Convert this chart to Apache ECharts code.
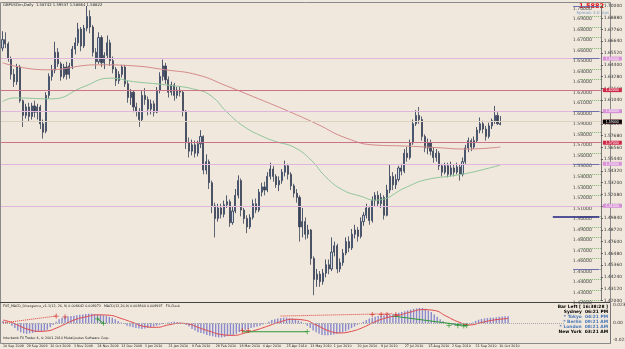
<!DOCTYPE html>
<html>
<head>
<meta charset="utf-8">
<script src="https://cdn.jsdelivr.net/npm/echarts@6/dist/echarts.min.js"></script>
<style>
  html, body { margin: 0; padding: 0; background: #f0e8dc; }
  #chart { width: 625px; height: 349px; }
</style>
</head>
<body>
<div id="chart"></div>
<script>
// GBPUSDm daily, one candle per slot: [open, close, low, high]
const candles = [
  [1.6600,1.6680,1.6570,1.6760],[1.6680,1.6640,1.6600,1.6750],[1.6640,1.6500,1.6470,1.6660],[1.6500,1.6350,1.6300,1.6520],
  [1.6350,1.6280,1.6230,1.6400],[1.6280,1.6420,1.6250,1.6450],[1.6420,1.6100,1.6080,1.6440],[1.6100,1.5960,1.5850,1.6110],
  [1.5960,1.6040,1.5930,1.6070],[1.6040,1.5950,1.5900,1.6080],[1.5950,1.6050,1.5920,1.6080],[1.6050,1.5990,1.5940,1.6100],
  [1.5990,1.6040,1.5920,1.6070],[1.6040,1.5880,1.5830,1.6060],[1.5880,1.5800,1.5740,1.5920],[1.5810,1.6150,1.5790,1.6180],
  [1.6150,1.6330,1.6120,1.6360],[1.6330,1.6390,1.6290,1.6440],[1.6390,1.6560,1.6360,1.6660],[1.6560,1.6450,1.6420,1.6600],
  [1.6450,1.6330,1.6290,1.6470],[1.6330,1.6420,1.6310,1.6450],[1.6420,1.6350,1.6300,1.6470],[1.6350,1.6430,1.6310,1.6460],
  [1.6430,1.6590,1.6400,1.6620],[1.6590,1.6650,1.6540,1.6700],[1.6650,1.6780,1.6620,1.6840],[1.6780,1.6620,1.6570,1.6800],
  [1.6620,1.6790,1.6600,1.6820],[1.6790,1.6900,1.6760,1.7000],[1.6900,1.6800,1.6740,1.6960],[1.6800,1.6560,1.6520,1.6820],
  [1.6560,1.6470,1.6400,1.6600],[1.6470,1.6700,1.6450,1.6750],[1.6700,1.6460,1.6420,1.6720],[1.6460,1.6530,1.6400,1.6560],
  [1.6530,1.6650,1.6500,1.6720],[1.6650,1.6480,1.6430,1.6680],[1.6480,1.6400,1.6360,1.6520],[1.6400,1.6290,1.6240,1.6420],
  [1.6290,1.6350,1.6260,1.6380],[1.6350,1.6420,1.6320,1.6440],[1.6420,1.6260,1.6230,1.6440],[1.6260,1.6130,1.6080,1.6290],
  [1.6130,1.6180,1.6060,1.6210],[1.6180,1.6040,1.5990,1.6200],[1.6040,1.6000,1.5950,1.6080],[1.6000,1.5920,1.5850,1.6030],
  [1.5920,1.6150,1.5900,1.6200],[1.6150,1.6110,1.6060,1.6220],[1.6110,1.6020,1.5960,1.6140],[1.6020,1.6070,1.5970,1.6110],
  [1.6070,1.5990,1.5950,1.6100],[1.5990,1.6200,1.5980,1.6230],[1.6200,1.6330,1.6170,1.6370],[1.6330,1.6430,1.6290,1.6490],
  [1.6430,1.6300,1.6260,1.6460],[1.6300,1.6180,1.6130,1.6330],[1.6180,1.6250,1.6150,1.6280],[1.6250,1.6150,1.6100,1.6270],
  [1.6150,1.6200,1.6120,1.6230],[1.6200,1.6180,1.6140,1.6240],[1.6180,1.6000,1.5950,1.6200],[1.6000,1.5700,1.5640,1.6010],
  [1.5700,1.5620,1.5560,1.5750],[1.5620,1.5680,1.5580,1.5730],[1.5680,1.5600,1.5560,1.5720],[1.5600,1.5690,1.5570,1.5720],
  [1.5690,1.5760,1.5650,1.5820],[1.5760,1.5440,1.5400,1.5770],[1.5440,1.5520,1.5400,1.5590],[1.5520,1.5320,1.5260,1.5540],
  [1.5320,1.5100,1.5030,1.5340],[1.5100,1.4980,1.4800,1.5130],[1.4980,1.5080,1.4950,1.5120],[1.5080,1.5020,1.4980,1.5120],
  [1.5020,1.5110,1.4990,1.5150],[1.5110,1.5140,1.5080,1.5200],[1.5140,1.4940,1.4900,1.5160],[1.4940,1.5050,1.4920,1.5090],
  [1.5050,1.5200,1.5030,1.5260],[1.5200,1.5340,1.5170,1.5390],[1.5340,1.5060,1.5000,1.5360],[1.5060,1.4980,1.4930,1.5080],
  [1.4980,1.4900,1.4840,1.5010],[1.4900,1.4990,1.4880,1.5020],[1.4990,1.5120,1.4970,1.5160],[1.5120,1.5060,1.5030,1.5170],
  [1.5060,1.5230,1.5040,1.5260],[1.5230,1.5280,1.5190,1.5320],[1.5280,1.5250,1.5200,1.5330],[1.5250,1.5380,1.5230,1.5420],
  [1.5380,1.5450,1.5350,1.5510],[1.5450,1.5380,1.5330,1.5480],[1.5380,1.5300,1.5270,1.5400],[1.5300,1.5340,1.5240,1.5380],
  [1.5340,1.5420,1.5310,1.5450],[1.5420,1.5480,1.5380,1.5530],[1.5480,1.5400,1.5350,1.5500],[1.5400,1.5290,1.5250,1.5420],
  [1.5290,1.5220,1.5180,1.5310],[1.5220,1.5180,1.5130,1.5260],[1.5180,1.4900,1.4760,1.5200],[1.4900,1.4950,1.4800,1.5080],
  [1.4950,1.4830,1.4780,1.4990],[1.4830,1.4870,1.4790,1.4920],[1.4870,1.4600,1.4540,1.4880],[1.4600,1.4400,1.4250,1.4620],
  [1.4400,1.4450,1.4330,1.4500],[1.4450,1.4380,1.4330,1.4480],[1.4380,1.4460,1.4350,1.4500],[1.4460,1.4540,1.4420,1.4590],
  [1.4540,1.4500,1.4450,1.4590],[1.4500,1.4660,1.4480,1.4800],[1.4660,1.4720,1.4620,1.4760],[1.4720,1.4500,1.4460,1.4740],
  [1.4500,1.4560,1.4470,1.4600],[1.4560,1.4650,1.4530,1.4690],[1.4650,1.4760,1.4630,1.4800],[1.4760,1.4700,1.4660,1.4810],
  [1.4700,1.4830,1.4680,1.4880],[1.4830,1.4870,1.4790,1.4920],[1.4870,1.4810,1.4760,1.4900],[1.4810,1.4950,1.4790,1.4990],
  [1.4950,1.5010,1.4910,1.5040],[1.5010,1.5080,1.4980,1.5120],[1.5080,1.4960,1.4920,1.5100],[1.4960,1.5150,1.4940,1.5190],
  [1.5150,1.5200,1.5100,1.5230],[1.5200,1.5120,1.5090,1.5240],[1.5120,1.5180,1.5080,1.5220],[1.5180,1.5010,1.4970,1.5200],
  [1.5010,1.5250,1.5000,1.5300],[1.5250,1.5380,1.5220,1.5490],[1.5380,1.5300,1.5250,1.5420],[1.5300,1.5350,1.5260,1.5400],
  [1.5350,1.5460,1.5330,1.5480],[1.5460,1.5430,1.5390,1.5500],[1.5430,1.5600,1.5410,1.5640],[1.5600,1.5560,1.5520,1.5660],
  [1.5560,1.5700,1.5540,1.5730],[1.5700,1.5880,1.5680,1.5920],[1.5880,1.5960,1.5860,1.6010],[1.5960,1.5920,1.5880,1.6040],
  [1.5920,1.5760,1.5720,1.5950],[1.5760,1.5650,1.5610,1.5780],[1.5650,1.5700,1.5590,1.5740],[1.5700,1.5620,1.5580,1.5730],
  [1.5620,1.5560,1.5510,1.5660],[1.5560,1.5600,1.5520,1.5640],[1.5600,1.5480,1.5440,1.5620],[1.5480,1.5420,1.5380,1.5500],
  [1.5420,1.5480,1.5400,1.5510],[1.5480,1.5400,1.5370,1.5510],[1.5400,1.5460,1.5380,1.5520],[1.5460,1.5420,1.5380,1.5490],
  [1.5420,1.5470,1.5400,1.5510],[1.5470,1.5400,1.5340,1.5490],[1.5400,1.5520,1.5380,1.5560],[1.5520,1.5650,1.5500,1.5680],
  [1.5650,1.5720,1.5610,1.5750],[1.5720,1.5660,1.5620,1.5740],[1.5660,1.5720,1.5640,1.5760],[1.5720,1.5820,1.5700,1.5850],
  [1.5820,1.5880,1.5790,1.5940],[1.5880,1.5830,1.5790,1.5910],[1.5830,1.5760,1.5720,1.5860],[1.5760,1.5860,1.5740,1.5890],
  [1.5860,1.5910,1.5830,1.5930],[1.5910,1.5960,1.5880,1.6050],[1.5960,1.5880,1.5870,1.5990],[1.5874,1.5882,1.5866,1.5954]
];

// moving averages sampled along the slots: [slot, price]
const maRed = [[0,1.6460],[15,1.6393],[33,1.6441],[45,1.6431],[56,1.6393],[67,1.6345],[77,1.6240],[88,1.6117],
  [98,1.6002],[108,1.5878],[118,1.5745],[128,1.5678],[138,1.5669],[149,1.5654],[159,1.5640],[171,1.5659]];
const maGreen = [[0,1.6091],[4,1.6126],[17,1.6117],[28,1.6234],[37,1.6314],[45,1.6281],[56,1.6250],[67,1.6202],
  [72,1.6138],[77,1.5993],[83,1.5853],[89,1.5764],[94,1.5710],[100,1.5659],[106,1.5535],[111,1.5376],[117,1.5249],
  [123,1.5192],[128,1.5154],[139,1.5281],[145,1.5345],[156,1.5392],[162,1.5424],[171,1.5488]];

// horizontal price levels
const levelsLilac = [1.6464, 1.6031, 1.5487, 1.5149];
const levelsRed = [1.6217, 1.5854, 1.5735];
const roundLevels = [1.70, 1.65, 1.60, 1.55, 1.45];
const bigRoundLevel = 1.50;
const lastPrice = 1.5882;

// MACD histogram, one value per candle
const macdHist = [
  0.0030,0.0020,0.0000,-0.0030,-0.0060,-0.0090,-0.0110,-0.0125,-0.0130,-0.0125,-0.0120,-0.0110,-0.0105,-0.0100,-0.0095,-0.0080,
  -0.0050,-0.0020,0.0020,0.0050,0.0070,0.0080,0.0085,0.0090,0.0095,0.0100,0.0105,0.0110,0.0115,0.0120,0.0120,0.0115,
  0.0110,0.0105,0.0100,0.0090,0.0080,0.0070,0.0050,0.0030,0.0010,-0.0010,-0.0030,-0.0040,-0.0050,-0.0060,-0.0065,-0.0070,
  -0.0065,-0.0060,-0.0050,-0.0040,-0.0030,-0.0020,-0.0010,0.0000,0.0010,0.0015,0.0020,0.0015,0.0010,0.0000,-0.0020,-0.0040,
  -0.0070,-0.0090,-0.0110,-0.0120,-0.0130,-0.0145,-0.0155,-0.0160,-0.0170,-0.0175,-0.0175,-0.0170,-0.0160,-0.0150,-0.0145,-0.0130,
  -0.0110,-0.0090,-0.0080,-0.0070,-0.0060,-0.0050,-0.0040,-0.0030,-0.0015,0.0000,0.0020,0.0040,0.0050,0.0060,0.0065,0.0070,
  0.0070,0.0065,0.0060,0.0050,0.0035,0.0020,0.0000,-0.0030,-0.0060,-0.0090,-0.0110,-0.0130,-0.0145,-0.0150,-0.0150,-0.0145,
  -0.0140,-0.0130,-0.0120,-0.0110,-0.0100,-0.0080,-0.0060,-0.0040,-0.0020,0.0000,0.0020,0.0040,0.0060,0.0070,0.0080,0.0090,
  0.0095,0.0100,0.0100,0.0105,0.0110,0.0120,0.0130,0.0140,0.0150,0.0160,0.0170,0.0180,0.0185,0.0190,0.0190,0.0180,
  0.0160,0.0140,0.0110,0.0080,0.0050,0.0030,0.0010,-0.0010,-0.0020,-0.0030,-0.0035,-0.0035,-0.0030,-0.0025,-0.0010,0.0010,
  0.0030,0.0045,0.0055,0.0060,0.0065,0.0070,0.0070,0.0075,0.0080,0.0085,0.0088,0.0089
];
const macdSignal = [[0,0.004],[3,0.001],[6,-0.004],[9,-0.008],[12,-0.010],[15,-0.0095],[18,-0.006],[21,-0.001],[24,0.004],
  [28,0.008],[32,0.0105],[36,0.010],[40,0.006],[44,0.001],[48,-0.004],[52,-0.005],[56,-0.002],[60,0.000],[63,-0.001],
  [66,-0.005],[70,-0.010],[74,-0.014],[78,-0.015],[82,-0.012],[86,-0.008],[90,-0.003],[94,0.002],[98,0.005],[102,0.004],
  [106,-0.002],[110,-0.009],[114,-0.012],[118,-0.010],[122,-0.005],[126,0.002],[130,0.007],[134,0.010],[138,0.014],
  [142,0.017],[146,0.016],[150,0.009],[154,0.002],[158,-0.002],[162,0.001],[166,0.004],[171,0.006]];

// divergence marks of the FX5 indicator
const divRedDotted = [[[0,0.0005],[18,0.0090]], [[94,0.0090],[132,0.0120]]];
const divGreen = [[[32,0.0055],[34,0.0000]], [[81,-0.0105],[103,-0.0105]], [[132,0.0090],[157,-0.0030]]];
const redMarks = [[18,0.0090],[21,0.0080],[81,-0.0090],[83,-0.0090],[125,0.0110],[128,0.0110],[130,0.0110],[133,0.0110]];
const greenMarks = [[32,0.0055],[34,0.0000],[103,-0.0105],[151,-0.0025],[154,-0.0030],[156,-0.0035],[157,-0.0030]];

const dateTicks = ['10 Sep 2009','29 Sep 2009','16 Oct 2009','3 Nov 2009','24 Nov 2009','13 Dec 2009','3 Jan 2010',
  '21 Jan 2010','9 Feb 2010','28 Feb 2010','18 Mar 2010','6 Apr 2010','25 Apr 2010','13 May 2010','1 Jun 2010',
  '20 Jun 2010','8 Jul 2010','27 Jul 2010','15 Aug 2010','2 Sep 2010','21 Sep 2010','10 Oct 2010'];

const headerText = 'GBPUSDm,Daily  1.58742 1.59537 1.58664 1.58822';
const subHeader = 'FX5_MACD_Divergence_v1.1(12, 26, 9) 0.008642 0.008973   MACD(12,26,9) 0.008864 0.008997   FX-Clock';
const footerText = 'Interbank FX Trader 4, \u00a9 2001-2010 MetaQuotes Software Corp.';
const clockRows = [
  ['Bar Left [ 16:38:28 ]', '#000'],
  ['Sydney  06:21 PM', '#000'],
  ['* Tokyo  04:21 PM', '#4a78b8'],
  ['* Berlin  09:21 AM', '#4a78b8'],
  ['* London  08:21 AM', '#4a78b8'],
  ['New York  03:21 AM', '#000']
];

const SLOTS = 206;
const slots = Array.from({ length: SLOTS }, (_, i) => i);
const FONT = 'Tahoma, "DejaVu Sans", sans-serif';

const levelLines = [];
levelsLilac.forEach(v => levelLines.push({ yAxis: v, lineStyle: { color: '#e2b6dc', width: 1, type: 'solid' },
  label: { backgroundColor: '#d890d8' } }));
levelsRed.forEach(v => levelLines.push({ yAxis: v, lineStyle: { color: '#cc7486', width: 1, type: 'solid' },
  label: { backgroundColor: '#d02848' } }));
levelLines.push({ yAxis: lastPrice, lineStyle: { color: '#ddd2c2', width: 1, type: 'solid' },
  label: { backgroundColor: '#000' } });

const roundLines = roundLevels.map(v => [
  { xAxis: 196, yAxis: v, lineStyle: { color: '#6f6fb0', width: 1, type: 'solid' } },
  { xAxis: SLOTS - 1, yAxis: v }
]);
roundLines.push([
  { xAxis: 189, yAxis: bigRoundLevel, lineStyle: { color: '#202080', width: 1.5, type: 'solid' } },
  { xAxis: SLOTS - 1, yAxis: bigRoundLevel }
]);

const plus = 'path://M3.4,0 L4.6,0 L4.6,3.4 L8,3.4 L8,4.6 L4.6,4.6 L4.6,8 L3.4,8 L3.4,4.6 L0,4.6 L0,3.4 L3.4,3.4 Z';

const chart = echarts.init(document.getElementById('chart'));
chart.setOption({
  animation: false,
  backgroundColor: '#f0e8dc',
  grid: [
    { left: 1, width: 609, top: 6, height: 294.5 },
    { left: 1, width: 609, top: 304, height: 39 }
  ],
  xAxis: [
    { type: 'category', gridIndex: 0, data: slots, boundaryGap: true,
      axisLine: { show: false }, axisTick: { show: false }, axisLabel: { show: false }, splitLine: { show: false } },
    { type: 'category', gridIndex: 1, data: slots, boundaryGap: true,
      axisLine: { show: false }, axisTick: { show: false }, splitLine: { show: false },
      axisLabel: {
        show: true, margin: 2, fontSize: 3.3, color: '#222', fontFamily: FONT, align: 'left',
        interval: i => i % 8 === 0 && i / 8 < dateTicks.length,
        formatter: (v, i) => dateTicks[i / 8] || ''
      } }
  ],
  yAxis: [
    { type: 'value', gridIndex: 0, position: 'right', min: 1.42, max: 1.70, interval: 0.01,
      axisLine: { show: true, lineStyle: { color: '#777', width: 1 } },
      axisTick: { show: true, inside: true, length: 22, lineStyle: { color: '#7cb36c', type: 'dotted', width: 1 } },
      axisLabel: { inside: true, margin: 9, fontSize: 4.6, color: '#4a4a4a', fontFamily: FONT,
        verticalAlign: 'top', formatter: v => v.toFixed(5) },
      splitLine: { show: false } },
    { type: 'value', gridIndex: 0, position: 'right', min: 1.42, max: 1.70, interval: 0.0112,
      axisLine: { show: false }, axisTick: { show: true, length: 2, lineStyle: { color: '#555' } },
      axisLabel: { margin: 3, fontSize: 4.4, color: '#333', fontFamily: FONT, formatter: v => v.toFixed(5) },
      splitLine: { show: false } },
    { type: 'value', gridIndex: 1, position: 'right', min: -0.0245, max: 0.024,
      axisLine: { show: true, lineStyle: { color: '#777', width: 1 } },
      axisTick: { show: false }, axisLabel: { show: false }, splitLine: { show: false } }
  ],
  series: [
    {
      type: 'candlestick', xAxisIndex: 0, yAxisIndex: 0, data: candles, barWidth: 1.6,
      itemStyle: { color: '#d3d9e2', color0: '#394258', borderColor: '#243450', borderColor0: '#394258', borderWidth: 0.8 },
      markLine: {
        silent: true, symbol: 'none',
        label: { show: true, position: 'end', distance: 2, fontSize: 3.6, color: '#fff', padding: [0, 3],
          formatter: p => p.value.toFixed(5) },
        data: levelLines
      },
      z: 3
    },
    {
      type: 'line', xAxisIndex: 0, yAxisIndex: 0, data: [],
      markLine: { silent: true, symbol: 'none', label: { show: false }, data: roundLines }
    },
    { type: 'line', xAxisIndex: 0, yAxisIndex: 0, data: maRed, smooth: true, showSymbol: false,
      lineStyle: { color: '#d48a8a', width: 1 }, z: 4 },
    { type: 'line', xAxisIndex: 0, yAxisIndex: 0, data: maGreen, smooth: true, showSymbol: false,
      lineStyle: { color: '#8fc69a', width: 1 }, z: 4 },
    {
      type: 'bar', xAxisIndex: 1, yAxisIndex: 2, data: macdHist, barWidth: 1.4,
      itemStyle: { color: '#8a8acc' },
      markLine: { silent: true, symbol: 'none', label: { show: false },
        data: [[{ xAxis: 0, yAxis: 0, lineStyle: { color: '#a8a8a8', type: 'dotted', width: 1 } }, { xAxis: 190, yAxis: 0 }]] }
    },
    { type: 'line', xAxisIndex: 1, yAxisIndex: 2, data: macdSignal, smooth: true, showSymbol: false,
      lineStyle: { color: '#e0484c', width: 1 }, z: 4 },
    ...divRedDotted.map(seg => ({ type: 'line', xAxisIndex: 1, yAxisIndex: 2, data: seg, showSymbol: false,
      lineStyle: { color: '#e03a3a', width: 1, type: 'dotted' }, z: 5 })),
    ...divGreen.map(seg => ({ type: 'line', xAxisIndex: 1, yAxisIndex: 2, data: seg, showSymbol: false,
      lineStyle: { color: '#2e9a3a', width: 1, type: 'solid' }, z: 5 })),
    { type: 'scatter', xAxisIndex: 1, yAxisIndex: 2, data: redMarks, symbol: plus, symbolSize: 5,
      itemStyle: { color: '#d01818' }, z: 6 },
    { type: 'scatter', xAxisIndex: 1, yAxisIndex: 2, data: greenMarks, symbol: plus, symbolSize: 5,
      itemStyle: { color: '#18901e' }, z: 6 }
  ],
  graphic: [
    { type: 'rect', shape: { x: 0.5, y: 2.5, width: 610, height: 341 }, style: { fill: 'none', stroke: '#8a8a8a', lineWidth: 1 }, silent: true },
    { type: 'line', shape: { x1: 0, y1: 302.5, x2: 610, y2: 302.5 }, style: { stroke: '#444', lineWidth: 1.2 }, silent: true },
    { type: 'text', left: 3, top: 3.5, style: { text: headerText, fontSize: 3.8, fill: '#222', fontFamily: FONT } },
    { type: 'text', right: 21, top: 3, style: { text: lastPrice.toFixed(4), fontSize: 6.5, fontWeight: 'bold', fill: '#e01010', fontFamily: FONT } },
    { type: 'text', right: 16, top: 11, style: { text: 'Spread: 3.0 pips', fontSize: 4, fill: '#7aa0c8', fontFamily: FONT } },
    { type: 'text', left: 3, top: 304.5, style: { text: subHeader, fontSize: 3.3, fill: '#222', fontFamily: FONT } },
    { type: 'text', left: 3, top: 336.5, style: { text: footerText, fontSize: 3.3, fill: '#222', fontFamily: FONT } },
    ...clockRows.map((r, i) => ({ type: 'text', right: 17, top: 304.5 + i * 5,
      style: { text: r[0], fontSize: 4.4, fontWeight: 'bold', fill: r[1], fontFamily: FONT, align: 'right' } })),
    { type: 'text', left: 613, top: 303, style: { text: '0.02396', fontSize: 4.4, fill: '#333', fontFamily: FONT } },
    { type: 'text', left: 613, top: 320.5, style: { text: '0.00', fontSize: 4.4, fill: '#333', fontFamily: FONT } },
    { type: 'text', left: 613, top: 338, style: { text: '-0.0232', fontSize: 4.4, fill: '#333', fontFamily: FONT } }
  ]
});
</script>
</body>
</html>
